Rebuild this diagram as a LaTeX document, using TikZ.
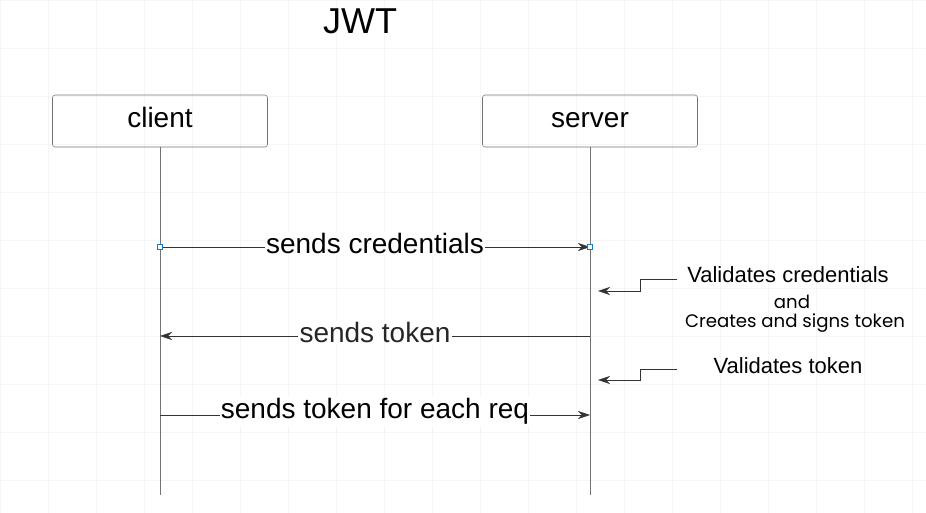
\documentclass[tikz,border=0pt]{standalone}
\usepackage{fontspec}
\setmainfont{Liberation Sans}
\newfontfamily\notefont{Poppins}
\usetikzlibrary{arrows.meta}

\begin{document}
\begin{tikzpicture}[x=0.75pt,y=-0.75pt,
	actor/.style={draw=gray!90!black, rounded corners=2pt, minimum width=161.25pt, minimum height=39pt, text height=15pt, text depth=4.5pt, font=\fontsize{21}{24}\selectfont},
	lifeline/.style={gray!90!black, thin},
	msg/.style={draw=black!80, thin, -{Stealth[length=9pt,width=6pt]}},
	lbl/.style={fill=white, inner sep=1pt, yshift=2.5pt, font=\fontsize{21}{24}\selectfont},
	handle/.style={draw=cyan!60!blue, fill=white, inner sep=0pt, minimum size=4pt},
	note/.style={font=\fontsize{16.5}{19}\selectfont},
	sub/.style={font=\notefont\fontsize{13.6}{16}\selectfont}]
	
	\useasboundingbox (0,0) rectangle (926,513);
	\draw[gray!8, very thin, step=36pt] (0,0) grid (926,513);
	
	\node[font=\fontsize{27}{30}\selectfont] (title) at (360,21) {JWT};
	
	\node[actor] (client) at (160,121) {client};
	\node[actor] (server) at (590,121) {server};
	\coordinate (clientEnd) at (160,495);
	\coordinate (serverEnd) at (590,495);
	\draw[lifeline] (client) -- (clientEnd);
	\draw[lifeline] (server) -- (serverEnd);
	
	\coordinate (c1) at (160,247);
	\coordinate (s1) at (590,247);
	\coordinate (c2) at (160,336);
	\coordinate (s2) at (590,336);
	\coordinate (c3) at (160,415);
	\coordinate (s3) at (590,415);
	
	\draw[msg] (c1) -- node[lbl] {sends credentials} (s1);
	\draw[msg] (s2) -- node[lbl, text=black!85] {sends token} (c2);
	\draw[msg] (c3) -- node[lbl] {sends token for each req} (s3);
	\node[handle] (h1) at (c1) {};
	\node[handle] (h2) at (s1) {};
	
	\coordinate (v1) at (677,279);
	\coordinate (v1e) at (598,291);
	\coordinate (v2) at (677,369);
	\coordinate (v2e) at (598,380);
	\draw[msg] (v1) -- (640,279) |- (v1e);
	\draw[msg] (v2) -- (640,369) |- (v2e);
	
	\node[note] (validCred) at (788,275) {Validates credentials};
	\node[sub] (and) at (792,302) {and};
	\node[sub] (signs) at (795,323) {Creates and signs token};
	\node[note] (validTok) at (788,366) {Validates token};
	
\end{tikzpicture}
\end{document}
